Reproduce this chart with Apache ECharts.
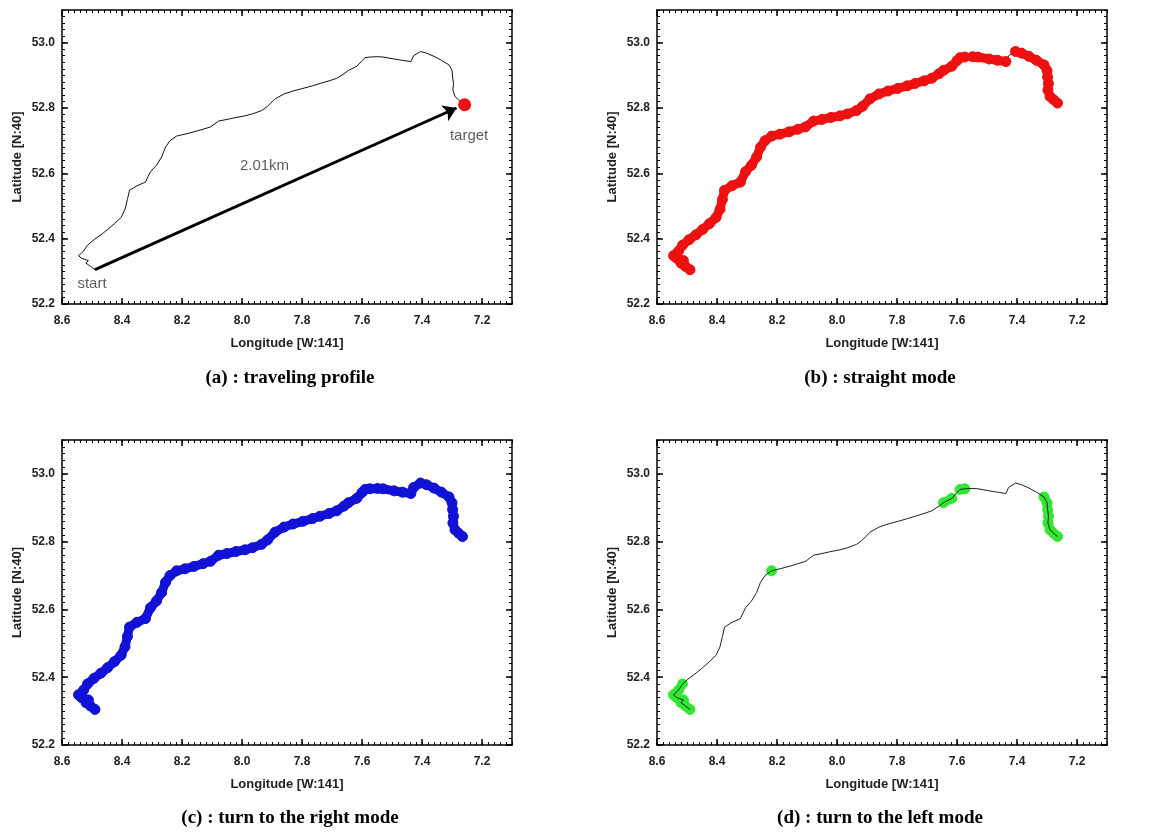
<!DOCTYPE html>
<html>
<head>
<meta charset="utf-8">
<title>traveling modes</title>
<script src="https://cdn.jsdelivr.net/npm/echarts@6/dist/echarts.min.js"></script>
<style>
    html, body { margin: 0; padding: 0; background: #fff; }
    #chart { width: 1171px; height: 839px; }
</style>
</head>
<body>
<div id="chart"></div>
<script>
    // axis ranges and tick labels
    var lonMin = 7.1, lonMax = 8.6;
    var latMin = 52.2, latMax = 53.1;
    var lonTicks = [8.6, 8.4, 8.2, 8.0, 7.8, 7.6, 7.4, 7.2];
    var latTicks = [52.2, 52.4, 52.6, 52.8, 53.0];
    var minorStep = 0.02;

    // traveling track [lon W:141, lat N:40], from start to target
    var track = [
        [8.490, 52.305], [8.505, 52.315], [8.520, 52.325], [8.512, 52.333], [8.535, 52.340],
        [8.545, 52.348], [8.528, 52.362], [8.515, 52.380], [8.493, 52.397], [8.470, 52.412],
        [8.448, 52.428], [8.425, 52.446], [8.403, 52.465], [8.390, 52.490], [8.382, 52.520],
        [8.375, 52.548], [8.350, 52.562], [8.322, 52.573], [8.305, 52.605], [8.285, 52.625],
        [8.268, 52.650], [8.255, 52.680], [8.240, 52.700], [8.218, 52.714], [8.190, 52.720],
        [8.160, 52.727], [8.130, 52.735], [8.105, 52.742], [8.078, 52.760], [8.050, 52.765],
        [8.020, 52.771], [7.990, 52.776], [7.965, 52.782], [7.935, 52.792], [7.915, 52.805],
        [7.890, 52.828], [7.860, 52.843], [7.830, 52.852], [7.797, 52.860], [7.765, 52.868],
        [7.740, 52.875], [7.710, 52.883], [7.684, 52.891], [7.660, 52.905], [7.645, 52.915],
        [7.617, 52.928], [7.600, 52.945], [7.590, 52.954], [7.574, 52.956], [7.548, 52.957],
        [7.530, 52.956], [7.493, 52.950], [7.465, 52.946], [7.437, 52.942], [7.428, 52.960],
        [7.405, 52.973], [7.385, 52.968], [7.360, 52.958], [7.335, 52.946], [7.310, 52.932],
        [7.300, 52.915], [7.298, 52.895], [7.295, 52.875], [7.297, 52.855], [7.290, 52.835],
        [7.278, 52.825], [7.265, 52.815]
    ];

    // index ranges of the track in each mode
    var straightRanges = [[0, 48], [49, 53], [55, 66]];
    var rightRanges = [[0, 66]];
    var leftRanges = [[0, 7], [23, 23], [44, 45], [47, 48], [59, 66]];

    // panel (a) annotations
    var arrowStart = [8.490, 52.305];
    var arrowEnd = [7.285, 52.800];
    var targetPoint = [7.258, 52.810];
    var notes = [
        {text: 'start', lon: 8.500, lat: 52.262},
        {text: '2.01km', lon: 7.925, lat: 52.624},
        {text: 'target', lon: 7.243, lat: 52.716}
    ];

    var captions = ['(a) : traveling profile', '(b) : straight mode',
        '(c) : turn to the right mode', '(d) : turn to the left mode'];

    var grids = [
        {left: 62, top: 10, width: 450, height: 294},
        {left: 657, top: 10, width: 450, height: 294},
        {left: 62, top: 440, width: 450, height: 305},
        {left: 657, top: 440, width: 450, height: 305}
    ];
    var captionPos = [[290, 378], [880, 378], [290, 818], [880, 818]];

    var lineStyle = {color: '#000', width: 1.5};
    var labelFont = {color: '#222', fontSize: 12, fontWeight: 'bold', fontFamily: 'Liberation Sans'};
    var nameFont = {color: '#222', fontSize: 13, fontWeight: 'bold', fontFamily: 'Liberation Sans'};

    function xAxes(g) {
        var base = {gridIndex: g, type: 'value', min: lonMin, max: lonMax, inverse: true,
            splitLine: {show: false}, axisLine: {show: true, onZero: false, lineStyle: lineStyle}};
        return [
            Object.assign({}, base, {
                position: 'bottom',
                name: 'Longitude [W:141]', nameLocation: 'middle', nameGap: 33, nameTextStyle: nameFont,
                axisTick: {show: true, inside: true, length: 6, customValues: lonTicks, lineStyle: lineStyle},
                axisLabel: Object.assign({customValues: lonTicks, margin: 11,
                    formatter: function (v) { return v.toFixed(1); }}, labelFont)
            }),
            Object.assign({}, base, {
                position: 'top',
                axisTick: {show: true, inside: true, length: 6, customValues: lonTicks, lineStyle: lineStyle},
                axisLabel: {show: false}
            }),
            Object.assign({}, base, {
                position: 'bottom', interval: minorStep, axisLine: {show: false},
                axisTick: {show: true, inside: true, length: 3, lineStyle: {color: '#000', width: 1}},
                axisLabel: {show: false}
            }),
            Object.assign({}, base, {
                position: 'top', interval: minorStep, axisLine: {show: false},
                axisTick: {show: true, inside: true, length: 3, lineStyle: {color: '#000', width: 1}},
                axisLabel: {show: false}
            })
        ];
    }

    function yAxes(g) {
        var base = {gridIndex: g, type: 'value', min: latMin, max: latMax,
            splitLine: {show: false}, axisLine: {show: true, onZero: false, lineStyle: lineStyle}};
        return [
            Object.assign({}, base, {
                position: 'left',
                name: 'Latitude [N:40]', nameLocation: 'middle', nameGap: 38, nameTextStyle: nameFont,
                axisTick: {show: true, inside: true, length: 6, customValues: latTicks, lineStyle: lineStyle},
                axisLabel: Object.assign({customValues: latTicks, margin: 7,
                    formatter: function (v) { return v.toFixed(1); }}, labelFont)
            }),
            Object.assign({}, base, {
                position: 'right',
                axisTick: {show: true, inside: true, length: 6, customValues: latTicks, lineStyle: lineStyle},
                axisLabel: {show: false}
            }),
            Object.assign({}, base, {
                position: 'left', interval: minorStep, axisLine: {show: false},
                axisTick: {show: true, inside: true, length: 3, lineStyle: {color: '#000', width: 1}},
                axisLabel: {show: false}
            }),
            Object.assign({}, base, {
                position: 'right', interval: minorStep, axisLine: {show: false},
                axisTick: {show: true, inside: true, length: 3, lineStyle: {color: '#000', width: 1}},
                axisLabel: {show: false}
            })
        ];
    }

    function trackLine(g, color, width, z) {
        return {
            type: 'line', xAxisIndex: g * 4, yAxisIndex: g * 4, data: track,
            showSymbol: false, z: z, silent: true,
            lineStyle: {color: color, width: width, cap: 'round', join: 'round'}
        };
    }

    function modeSeries(g, ranges, color, z) {
        return ranges.map(function (r) {
            return {
                type: 'line', xAxisIndex: g * 4, yAxisIndex: g * 4,
                data: track.slice(r[0], r[1] + 1), z: z, silent: true,
                symbol: 'circle', symbolSize: 10, showSymbol: true,
                itemStyle: {color: color, borderColor: color, opacity: 1},
                lineStyle: {color: color, width: 9, cap: 'round', join: 'round'}
            };
        });
    }

    var xAxis = [], yAxis = [];
    for (var g = 0; g < 4; g++) {
        xAxis = xAxis.concat(xAxes(g));
        yAxis = yAxis.concat(yAxes(g));
    }

    var series = [];
    // (a) traveling profile
    series.push(trackLine(0, '#111', 1, 2));
    series.push({
        type: 'line', xAxisIndex: 0, yAxisIndex: 0, data: [], z: 3, silent: true,
        markLine: {
            silent: true, symbol: ['none', 'arrow'], symbolSize: 13, label: {show: false},
            lineStyle: {color: '#000', width: 3, type: 'solid', opacity: 1},
            data: [[{coord: arrowStart}, {coord: arrowEnd}]]
        }
    });
    series.push({
        type: 'scatter', xAxisIndex: 0, yAxisIndex: 0, data: [targetPoint], z: 4,
        symbol: 'circle', symbolSize: 13, itemStyle: {color: '#ee1111', opacity: 1}
    });
    series.push({
        type: 'scatter', xAxisIndex: 0, yAxisIndex: 0, z: 5, symbolSize: 0,
        data: notes.map(function (n) { return {value: [n.lon, n.lat], name: n.text}; }),
        label: {show: true, position: 'inside', formatter: '{b}', color: '#333',
            fontSize: 15, fontFamily: 'Liberation Sans'}
    });
    // (b) straight mode
    series.push(trackLine(1, '#222', 1, 2));
    series = series.concat(modeSeries(1, straightRanges, '#ee1111', 3));
    // (c) turn to the right mode
    series = series.concat(modeSeries(2, rightRanges, '#1212d6', 3));
    // (d) turn to the left mode
    series = series.concat(modeSeries(3, leftRanges, '#33e633', 2));
    series.push(trackLine(3, '#222', 1, 3));

    var graphic = captions.map(function (t, i) {
        return {
            type: 'text', x: captionPos[i][0], y: captionPos[i][1], silent: true,
            style: {text: t, fill: '#000', textAlign: 'center', textVerticalAlign: 'middle',
                font: 'bold 19px "Liberation Serif"'}
        };
    });

    var myChart = echarts.init(document.getElementById('chart'));
    var option = {
        animation: false,
        backgroundColor: '#fff',
        grid: grids,
        xAxis: xAxis,
        yAxis: yAxis,
        series: series,
        graphic: graphic
    };
    option && myChart.setOption(option);
</script>
</body>
</html>
